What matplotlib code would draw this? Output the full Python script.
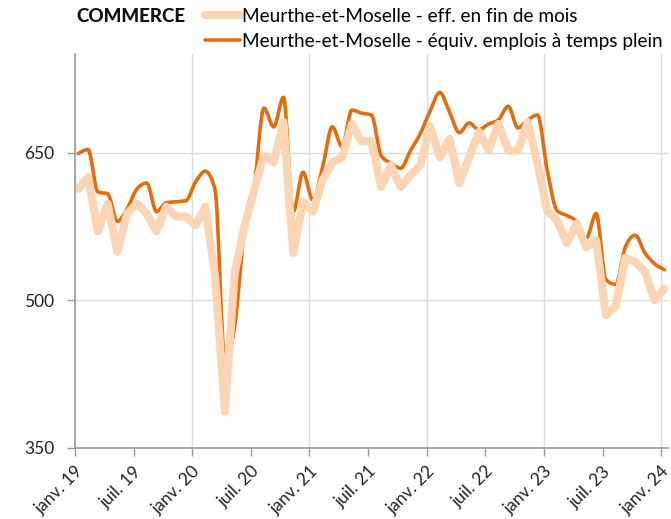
import numpy as np
import matplotlib
matplotlib.use("Agg")
import matplotlib.pyplot as plt
from matplotlib.path import Path
from matplotlib.patches import PathPatch
from matplotlib.lines import Line2D

# effectifs commerce, Meurthe-et-Moselle, mensuel janv. 2019 -> janv. 2024
eff_fin_mois = [613, 625, 570, 598, 549, 588, 598, 588, 570, 595, 585, 585,
                576, 595, 525, 387, 527, 575, 612, 647, 640, 681, 548, 600,
                590, 622, 640, 645, 679, 661, 662, 615, 637, 615, 627, 637,
                677, 645, 664, 619, 645, 671, 652, 679, 652, 652, 681, 639,
                591, 581, 558, 578, 554, 561, 485, 494, 543, 539, 529, 500,
                512]
equiv_etp = [649, 653, 610, 608, 580, 593, 613, 619, 590, 599, 600, 601,
             620, 631, 612, 440, 473, 571, 615, 695, 676, 706, 590, 630,
             602, 635, 676, 656, 693, 690, 688, 647, 639, 634, 652, 669,
             692, 711, 691, 670, 680, 673, 679, 683, 697, 675, 683, 688,
             632, 591, 586, 580, 563, 588, 521, 516, 554, 566, 548, 537,
             531]
tick_labels = ["janv. 19", "juil. 19", "janv. 20", "juil. 20", "janv. 21",
               "juil. 21", "janv. 22", "juil. 22", "janv. 23", "juil. 23",
               "janv. 24"]
labels = ["Meurthe-et-Moselle - eff. en fin de mois",
          "Meurthe-et-Moselle - équiv. emplois à temps plein"]

light = "#fdd5b4"
dark = "#e46c0a"


def monotone_path(x, y):
    # smooth curve through the points (monotone cubic, as bezier segments)
    x = np.asarray(x, float)
    y = np.asarray(y, float)
    h = np.diff(x)
    s = np.diff(y) / h
    m = np.zeros_like(y)
    for i in range(1, len(y) - 1):
        p = (s[i-1]*h[i] + s[i]*h[i-1]) / (h[i-1] + h[i])
        m[i] = (np.sign(s[i-1]) + np.sign(s[i])) * min(abs(s[i-1]), abs(s[i]), 0.5*abs(p))
    m[0] = (3*s[0] - m[1]) / 2
    m[-1] = (3*s[-1] - m[-2]) / 2
    verts = [(x[0], y[0])]
    codes = [Path.MOVETO]
    for i in range(len(x) - 1):
        d = h[i] / 3
        verts += [(x[i] + d, y[i] + m[i]*d), (x[i+1] - d, y[i+1] - m[i+1]*d),
                  (x[i+1], y[i+1])]
        codes += [Path.CURVE4] * 3
    return Path(verts, codes)


plt.rcParams["font.family"] = ["Lato", "DejaVu Sans"]

fig = plt.figure(figsize=(6.71, 5.19), dpi=100)
ax = fig.add_axes([75/671, (519-448)/519, (668-75)/671, (448-54)/519])

x = np.arange(len(equiv_etp)) + 0.34
ax.plot(x, eff_fin_mois, color=light, lw=5.8, solid_joinstyle="round",
        solid_capstyle="round")
ax.add_patch(PathPatch(monotone_path(x, equiv_etp), fill=False,
                       edgecolor=dark, lw=2.6, capstyle="round",
                       joinstyle="round"))

ax.set_ylim(350, 750)
ax.set_xlim(0, 60.7)
ax.set_yticks([350, 500, 650])
ticks = np.arange(len(tick_labels)) * 6
ax.set_xticks(ticks)
ax.set_xticklabels(tick_labels, rotation=45, ha="right", rotation_mode="anchor")

for t in ticks[::2]:
    ax.axvline(t, color="#dcdcdc", lw=1, zorder=0)
for v in [500, 650]:
    ax.axhline(v, color="#dcdcdc", lw=1, zorder=0)

for s in ["top", "right"]:
    ax.spines[s].set_visible(False)
for s in ["left", "bottom"]:
    ax.spines[s].set_color("#999999")
    ax.spines[s].set_linewidth(1.2)
ax.tick_params(axis="both", colors="#999999", length=6, width=1,
               labelcolor="#222222", labelsize=12.5)
ax.tick_params(axis="y", pad=9)
ax.tick_params(axis="x", pad=5)

fig.text(76/671, 1 - 16/519, "COMMERCE", fontsize=13.5, fontweight="black",
         va="center", ha="left", color="#111111")
handles = [Line2D([], [], color=light, lw=5.8, solid_capstyle="round"),
           Line2D([], [], color=dark, lw=2.6, solid_capstyle="round")]
leg = fig.legend(handles, labels, loc="upper left",
                 bbox_to_anchor=(205/671, 1 - 8/519), frameon=False,
                 fontsize=13.7, handlelength=1.85, handletextpad=0.1,
                 labelspacing=0.42, borderaxespad=0.0, borderpad=0.0)

fig.savefig("out.png", dpi=100)
